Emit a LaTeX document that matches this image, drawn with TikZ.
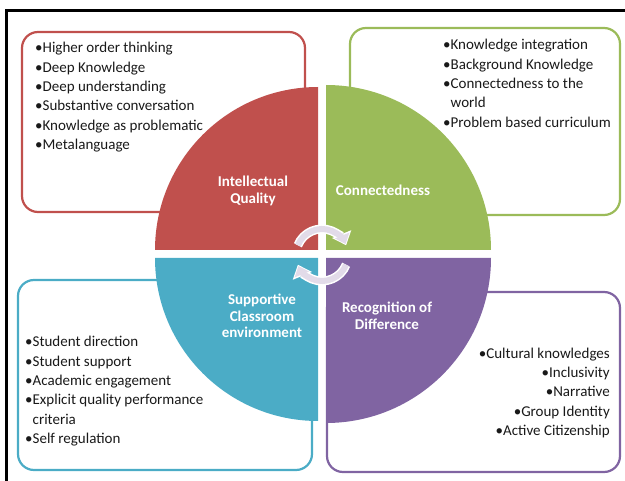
\documentclass[tikz,border=0pt]{standalone}
\usepackage{fontspec}
\setmainfont{Carlito}
\usetikzlibrary{arrows.meta}
\definecolor{iqred}{HTML}{C0504D}
\definecolor{cngreen}{HTML}{9BBB59}
\definecolor{scblue}{HTML}{4BACC6}
\definecolor{rdpurple}{HTML}{8064A2}
\definecolor{ringgray}{RGB}{226,219,233}
\begin{document}
\begin{tikzpicture}[x=1pt,y=-1pt,
	box/.style={line width=2.2pt,rounded corners=16pt},
	title/.style={text=white,font=\fontsize{15}{16.5}\selectfont\bfseries,align=center},
	list/.style={inner sep=0pt,text=black!90,font=\fontsize{15}{19.4}\selectfont}]
	\useasboundingbox (0,0) rectangle (625,481);
	\draw[line width=3pt] (6,481) -- (6,11) -- (625,11);
	% boxes behind the circle
	\draw[box,iqred] (22,32) rectangle (305,212);
	\draw[box,cngreen] (350,28) rectangle (620,215);
	\draw[box,scblue] (18,280) rectangle (312,470);
	\draw[box,rdpurple] (327,292) rectangle (620,472);
	% quarters
	\fill[iqred] (318,250) -- ++(-163,0) arc[start angle=180,end angle=270,radius=163] -- cycle;
	\fill[cngreen] (326,250) -- ++(0,-165) arc[start angle=270,end angle=360,radius=165] -- cycle;
	\fill[rdpurple] (326,258) -- ++(165,0) arc[start angle=0,end angle=90,radius=165] -- cycle;
	\fill[scblue] (318,258) -- ++(0,163) arc[start angle=90,end angle=180,radius=163] -- cycle;
	% ring arrows
	\coordinate (hub) at (322,255);
	\draw[white,line width=9pt,-{Triangle[length=12pt,width=20pt]}] (hub) ++(-158:26) arc[start angle=-158,end angle=-22,radius=26];
	\draw[ringgray,line width=6pt,shorten >=1.5pt,-{Triangle[length=9pt,width=15pt]}] (hub) ++(-158:26) arc[start angle=-158,end angle=-22,radius=26];
	\draw[white,line width=9pt,-{Triangle[length=12pt,width=20pt]}] (hub) ++(22:26) arc[start angle=22,end angle=158,radius=26];
	\draw[ringgray,line width=6pt,shorten >=1.5pt,-{Triangle[length=9pt,width=15pt]}] (hub) ++(22:26) arc[start angle=22,end angle=158,radius=26];
	% titles
	\node[title] (iq) at (253,191) {Intellectual\\Quality};
	\node[title] (cn) at (383,190) {Connectedness};
	\node[title] (sc) at (262,316) {Supportive\\Classroom\\environment};
	\node[title] (rd) at (387,316) {Recognition of\\Difference};
	% lists
	\node[list,anchor=north west,align=left] (iqlist) at (35,42) {•Higher order thinking\\•Deep Knowledge\\•Deep understanding\\•Substantive conversation\\•Knowledge as problematic\\•Metalanguage};
	\node[list,anchor=north west,align=left] (cnlist) at (443,39) {•Knowledge integration\\•Background Knowledge\\•Connectedness to the\\\phantom{•}world\\•Problem based curriculum};
	\node[list,anchor=north west,align=left] (sclist) at (25,336) {•Student direction\\•Student support\\•Academic engagement\\•Explicit quality performance\\\phantom{•}criteria\\•Self regulation};
	\node[list,anchor=north east,align=right] (rdlist) at (610,347.5) {•Cultural knowledges\\•Inclusivity\\•Narrative\\•Group Identity\\•Active Citizenship};
\end{tikzpicture}
\end{document}
